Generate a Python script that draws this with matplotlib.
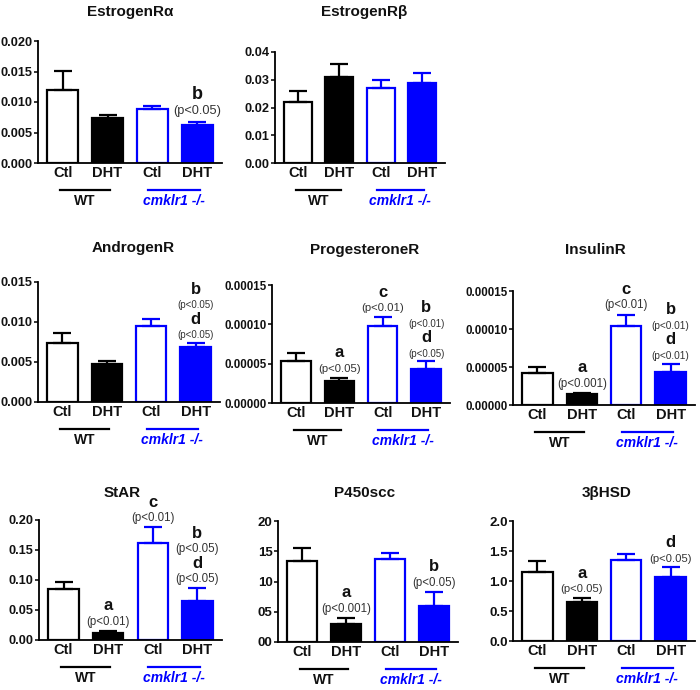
import matplotlib
matplotlib.use("Agg")
import matplotlib.pyplot as plt
from matplotlib.transforms import offset_copy

plt.rcParams['font.family'] = ['Liberation Sans', 'DejaVu Sans']

# ---------------- data ----------------
categories = ["Ctl", "DHT", "Ctl", "DHT"]
group_labels = ["WT", "cmklr1 -/-"]
titles = ["EstrogenRα", "EstrogenRβ", "AndrogenR", "ProgesteroneR",
          "InsulinR", "StAR", "P450scc", "3βHSD"]

era_mean = [0.0119, 0.0073, 0.0089, 0.0062]
era_err = [0.0032, 0.0006, 0.0005, 0.0006]
erb_mean = [0.0220, 0.0309, 0.0271, 0.0287]
erb_err = [0.0041, 0.0047, 0.0028, 0.0039]
ar_mean = [0.0074, 0.0047, 0.0095, 0.0069]
ar_err = [0.0012, 0.0004, 0.0009, 0.0005]
pr_mean = [0.0000530, 0.0000275, 0.0000980, 0.0000430]
pr_err = [0.0000100, 0.0000045, 0.0000110, 0.0000100]
ir_mean = [0.0000415, 0.0000140, 0.0001040, 0.0000440]
ir_err = [0.0000090, 0.0000022, 0.0000150, 0.0000100]
star_mean = [0.0844, 0.0122, 0.1610, 0.0644]
star_err = [0.0123, 0.0034, 0.0270, 0.0217]
p450_mean = [13.4, 2.9, 13.7, 5.95]
p450_err = [2.1, 1.05, 1.0, 2.3]
hsd_mean = [1.144, 0.656, 1.35, 1.07]
hsd_err = [0.19, 0.055, 0.095, 0.156]

era_ticks = [0.0, 0.005, 0.010, 0.015, 0.020]
era_ticklabels = ["0.000", "0.005", "0.010", "0.015", "0.020"]
erb_ticks = [0.0, 0.01, 0.02, 0.03, 0.04]
erb_ticklabels = ["0.00", "0.01", "0.02", "0.03", "0.04"]
ar_ticks = [0.0, 0.005, 0.010, 0.015]
ar_ticklabels = ["0.000", "0.005", "0.010", "0.015"]
pr_ticks = [0.0, 0.00005, 0.00010, 0.00015]
pr_ticklabels = ["0.00000", "0.00005", "0.00010", "0.00015"]
ir_ticks = [0.0, 0.00005, 0.00010, 0.00015]
ir_ticklabels = ["0.00000", "0.00005", "0.00010", "0.00015"]
star_ticks = [0.0, 0.05, 0.10, 0.15, 0.20]
star_ticklabels = ["0.00", "0.05", "0.10", "0.15", "0.20"]
p450_ticks = [0, 5, 10, 15, 20]
p450_ticklabels = ["00", "05", "10", "15", "20"]
hsd_ticks = [0.0, 0.5, 1.0, 1.5, 2.0]
hsd_ticklabels = ["0.0", "0.5", "1.0", "1.5", "2.0"]

# significance annotations: (bar index, [(letter, p-text) bottom -> top], p fontsize)
era_annot = [(3, [("b", "(p<0.05)")], 9.2)]
erb_annot = []
ar_annot = [(3, [("d", "(p<0.05)"), ("b", "(p<0.05)")], 7.0)]
pr_annot = [(1, [("a", "(p<0.05)")], 8.2), (2, [("c", "(p<0.01)")], 8.2),
            (3, [("d", "(p<0.05)"), ("b", "(p<0.01)")], 7.0)]
ir_annot = [(1, [("a", "(p<0.001)")], 8.3), (2, [("c", "(p<0.01)")], 8.3),
            (3, [("d", "(p<0.01)"), ("b", "(p<0.01)")], 7.3)]
star_annot = [(1, [("a", "(p<0.01)")], 8.3), (2, [("c", "(p<0.01)")], 8.3),
              (3, [("d", "(p<0.05)"), ("b", "(p<0.05)")], 8.3)]
p450_annot = [(1, [("a", "(p<0.001)")], 8.3), (3, [("b", "(p<0.05)")], 8.3)]
hsd_annot = [(1, [("a", "(p<0.05)")], 8.1), (3, [("d", "(p<0.05)")], 8.1)]

# ---------------- layout (pixels) ----------------
W, H = 700, 690
BLUE = "#0000ff"
fills = ["white", "black", "white", BLUE]
edges = ["black", "black", BLUE, BLUE]

panels = [
    (titles[0], era_mean, era_err, era_ticks, era_ticklabels, era_annot, (38, 222, 41, 163), (130, 12), 9.2, 13),
    (titles[1], erb_mean, erb_err, erb_ticks, erb_ticklabels, erb_annot, (275, 445, 52, 163), (364, 12), 9.2, 12),
    (titles[2], ar_mean, ar_err, ar_ticks, ar_ticklabels, ar_annot, (38, 220, 282, 402), (133, 248), 9.2, 12),
    (titles[3], pr_mean, pr_err, pr_ticks, pr_ticklabels, pr_annot, (272, 450, 285, 403), (365, 250), 8.3, 12),
    (titles[4], ir_mean, ir_err, ir_ticks, ir_ticklabels, ir_annot, (513, 695, 291, 405), (595, 250), 8.3, 12),
    (titles[5], star_mean, star_err, star_ticks, star_ticklabels, star_annot, (39, 222, 520, 640), (122, 493), 9.2, 12),
    (titles[6], p450_mean, p450_err, p450_ticks, p450_ticklabels, p450_annot, (278, 458, 521, 642), (365, 493), 9.5, 12),
    (titles[7], hsd_mean, hsd_err, hsd_ticks, hsd_ticklabels, hsd_annot, (513, 695, 521, 641), (607, 493), 9.5, 12),
]

fig = plt.figure(figsize=(W / 100, H / 100), dpi=100)
fig.patch.set_facecolor("white")

PX = 0.72  # points per pixel at 100 dpi
xs = [0, 1, 2, 3]

for (title, mean, err, ticks, ticklabels, annots, box, tpos, tick_fs, letter_fs) in panels:
    x0, x1, yt, yb = box
    ax = fig.add_axes([x0 / W, 1 - yb / H, (x1 - x0) / W, (yb - yt) / H])
    ax.bar(xs, mean, width=0.68, color=fills, edgecolor=edges, linewidth=1.6, zorder=2)
    for i in xs:
        ax.errorbar(xs[i], mean[i], yerr=[[0], [err[i]]], fmt='none', ecolor=edges[i],
                    elinewidth=1.6, capsize=6.8, capthick=1.6, zorder=3)
    ax.set_xlim(-0.55, 3.55)
    ax.set_ylim(ticks[0], ticks[-1])
    ax.set_yticks(ticks)
    ax.set_yticklabels(ticklabels, fontsize=tick_fs, fontweight='bold', color='#111111')
    ax.set_xticks(xs)
    ax.set_xticklabels(categories, fontsize=10.5, fontweight='bold', color='#111111')
    ax.tick_params(axis='x', length=0, pad=2.5)
    ax.tick_params(axis='y', length=3.0, width=1.1, pad=0.8, direction='out')
    for s in ['top', 'right']:
        ax.spines[s].set_visible(False)
    for s in ['left', 'bottom']:
        ax.spines[s].set_linewidth(1.3)
    ax.set_facecolor('none')

    # group underlines and labels
    line_tr = offset_copy(ax.get_xaxis_transform(), fig=fig, x=0, y=-27, units='dots')
    text_tr = offset_copy(ax.get_xaxis_transform(), fig=fig, x=0, y=-38, units='dots')
    ax.plot([-0.05, 1.05], [0, 0], transform=line_tr, color='black', lw=1.6, clip_on=False)
    ax.plot([1.9, 3.05], [0, 0], transform=line_tr, color=BLUE, lw=1.6, clip_on=False)
    ax.text(0.5, 0, group_labels[0], transform=text_tr, ha='center', va='center',
            fontsize=10, fontweight='bold', color='#111111')
    ax.text(2.47, 0, group_labels[1], transform=text_tr, ha='center', va='center',
            fontsize=10, fontweight='bold', fontstyle='italic', color=BLUE)

    # significance annotations
    for (bi, stack, pfs) in annots:
        top = mean[bi] + err[bi]
        off = 1.1 * pfs
        for k, (letter, ptxt) in enumerate(stack):
            if k > 0:
                off += 14
            ax.annotate(ptxt, xy=(bi, top), xytext=(0, off * PX), textcoords='offset points',
                        ha='center', va='center', fontsize=pfs, color='#333333',
                        annotation_clip=False)
            off += 16 if letter_fs < 13 else 17
            ax.annotate(letter, xy=(bi, top), xytext=(0, off * PX), textcoords='offset points',
                        ha='center', va='center', fontsize=letter_fs, fontweight='bold',
                        color='#111111', annotation_clip=False)

    fig.text(tpos[0] / W, 1 - tpos[1] / H, title, ha='center', va='center',
             fontsize=11, fontweight='bold', color='#111111')

fig.savefig("out.png", dpi=100, facecolor='white')
